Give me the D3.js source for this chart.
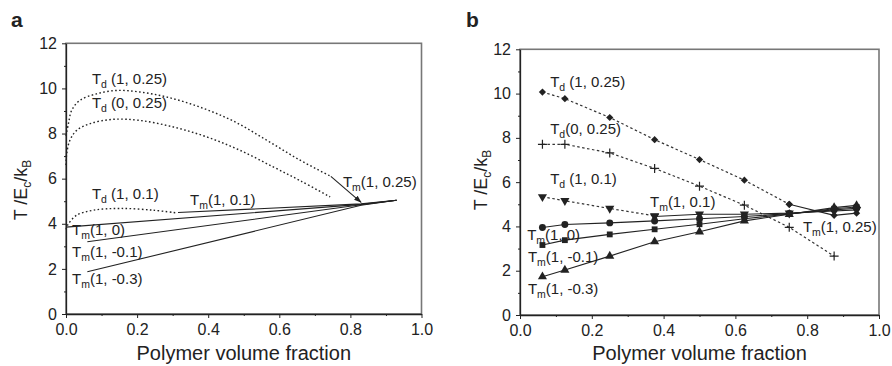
<!DOCTYPE html>
<meta charset="utf-8">
<style>
body { margin: 0; background: #fff; }
svg { font-family: "Liberation Sans", Arial, sans-serif; }
.tick text { font-size: 16px; fill: #222; }
.tick line { stroke: #222; }
.domain { stroke: #222; stroke-width: 1.3; }
.lbl { font-size: 15px; fill: #222; }
</style>
<svg width="892" height="366"></svg>
<script src="https://cdn.jsdelivr.net/npm/d3@7"></script>
<script>
var xTicks = [0, 0.2, 0.4, 0.6, 0.8, 1.0];
var xMinor = [0.1, 0.3, 0.5, 0.7, 0.9];
var yTicks = [0, 2, 4, 6, 8, 10, 12];
var yMinor = [1, 3, 5, 7, 9, 11];

// panel a: model curves, [volume fraction, T/Ec/kB]
var aTd1_025 = [[0, 7.9], [0.007, 8.45], [0.016, 9.03], [0.039, 9.47], [0.086, 9.76], [0.143, 9.91], [0.208, 9.84],
  [0.283, 9.62], [0.377, 9.17], [0.471, 8.55], [0.565, 7.7], [0.655, 6.85], [0.745, 6.1]];
var aTd0_025 = [[0, 6.6], [0.002, 7.1], [0.011, 7.7], [0.03, 8.14], [0.068, 8.44], [0.133, 8.63], [0.208, 8.58],
  [0.302, 8.29], [0.396, 7.85], [0.489, 7.26], [0.583, 6.52], [0.66, 5.9], [0.743, 5.19]];
var aTd1_01 = [[0, 3.75], [0.005, 3.95], [0.03, 4.38], [0.077, 4.6], [0.152, 4.68], [0.246, 4.6], [0.311, 4.48]];
var aTm1_01 = [[0.315, 4.5], [0.83, 4.88], [0.93, 5.04]];
var aTm1_0 = [[0.0, 3.85], [0.83, 4.86], [0.93, 5.04]];
var aTm1_m01 = [[0.06, 3.2], [0.83, 4.84], [0.93, 5.04]];
var aTm1_m03 = [[0.06, 1.87], [0.83, 4.82], [0.93, 5.04]];
var aArrow = [[0.745, 6.1], [0.83, 4.95]];

// panel b: simulation points
var bX = [0.0625, 0.125, 0.25, 0.375, 0.5, 0.625, 0.75, 0.875, 0.9375];
var bTd1_025 = [10.07, 9.77, 8.92, 7.92, 7.02, 6.09, 5.0];        // x: bX[0..6]
var bTm1_025 = [5.0, 4.5, 4.6];                                   // x: bX[6..8]
var bTd0_025 = [7.71, 7.71, 7.32, 6.62, 5.82, 4.96, 3.96, 2.66];  // x: bX[0..7]
var bTd1_01 = [5.34, 5.16, 4.81, 4.48];                           // x: bX[0..3]
var bTm1_01 = [4.45, 4.55, 4.55, 4.6, 4.7, 4.75];                 // x: bX[3..8]
var bTm1_0 = [3.95, 4.09, 4.16, 4.25, 4.35, 4.45, 4.58, 4.75, 4.82];
var bTm1_m01 = [3.16, 3.38, 3.64, 3.87, 4.1, 4.35, 4.56, 4.8, 4.88];
var bTm1_m03 = [1.73, 2.03, 2.66, 3.31, 3.76, 4.25, 4.55, 4.85, 4.95];

var svg = d3.select("svg");
var ink = "#222";

function pts(xs, ys) { return ys.map(function(v, i) { return [xs[i], v]; }); }

function panel(o) {
  var x = d3.scaleLinear().domain([0, 1]).range([o.left, o.right]);
  var y = d3.scaleLinear().domain([0, 12]).range([o.bottom, o.top]);
  var g = svg.append("g");

  g.append("rect")
      .attr("x", o.left).attr("y", o.top)
      .attr("width", o.right - o.left).attr("height", o.bottom - o.top)
      .attr("fill", "none").attr("stroke", "#777").attr("stroke-width", 1.6);

  g.append("g").attr("transform", "translate(0," + o.bottom + ")")
      .call(d3.axisBottom(x).tickValues(xMinor).tickFormat("").tickSize(2).tickSizeOuter(0))
      .select(".domain").remove();
  g.append("g").attr("transform", "translate(" + o.left + ",0)")
      .call(d3.axisLeft(y).tickValues(yMinor).tickFormat("").tickSize(2).tickSizeOuter(0))
      .select(".domain").remove();
  g.append("g").attr("transform", "translate(0," + o.bottom + ")")
      .call(d3.axisBottom(x).tickValues(xTicks).tickFormat(d3.format(".1f")).tickSize(4).tickSizeOuter(0).tickPadding(6));
  g.append("g").attr("transform", "translate(" + o.left + ",0)")
      .call(d3.axisLeft(y).tickValues(yTicks).tickFormat(d3.format("d")).tickSize(4).tickSizeOuter(0).tickPadding(5));
  g.selectAll(".tick text").attr("font-family", null).attr("font-size", null);

  g.append("text").attr("x", o.tag[0]).attr("y", o.tag[1])
      .attr("font-size", 21).attr("font-weight", "bold").attr("fill", ink).text(o.name);

  g.append("text").attr("x", (o.left + o.right) / 2).attr("y", 360)
      .attr("text-anchor", "middle").attr("font-size", 20).attr("fill", ink)
      .text("Polymer volume fraction");

  var yl = g.append("text")
      .attr("transform", "translate(" + o.ylab[0] + "," + o.ylab[1] + ") rotate(-90)")
      .attr("text-anchor", "middle").attr("font-size", 18).attr("fill", ink);
  yl.append("tspan").text("T /E");
  yl.append("tspan").attr("font-size", 12).attr("dy", 4).text("c");
  yl.append("tspan").attr("dy", -4).text("/k");
  yl.append("tspan").attr("font-size", 12).attr("dy", 4).text("B");

  return { g: g, x: x, y: y };
}

function labels(p, list) {
  list.forEach(function(d) {
    var t = p.g.append("text").attr("class", "lbl")
        .attr("x", p.x(d[3])).attr("y", p.y(d[4]));
    t.append("tspan").text(d[0]);
    t.append("tspan").attr("font-size", 10.5).attr("dy", 4).text(d[1]);
    t.append("tspan").attr("dy", -4).text(d[2]);
  });
}

// ---------- panel a ----------
var pa = panel({ name: "a", left: 66, right: 421.5, top: 43.3, bottom: 314, tag: [11, 27], ylab: [27, 190] });

var curve = d3.line().x(function(d) { return pa.x(d[0]); }).y(function(d) { return pa.y(d[1]); })
    .curve(d3.curveCatmullRom.alpha(0.5));
var straight = d3.line().x(function(d) { return pa.x(d[0]); }).y(function(d) { return pa.y(d[1]); });

[aTd1_025, aTd0_025, aTd1_01].forEach(function(c) {
  pa.g.append("path").attr("d", curve(c)).attr("fill", "none")
      .attr("stroke", ink).attr("stroke-width", 1.4).attr("stroke-dasharray", "1.6,2.4");
});
[aTm1_01, aTm1_0, aTm1_m01, aTm1_m03].forEach(function(c) {
  pa.g.append("path").attr("d", straight(c)).attr("fill", "none")
      .attr("stroke", ink).attr("stroke-width", 1.1);
});

svg.append("defs").append("marker")
    .attr("id", "head").attr("viewBox", "0 0 10 10").attr("refX", 9).attr("refY", 5)
    .attr("markerWidth", 7).attr("markerHeight", 7).attr("orient", "auto")
  .append("path").attr("d", "M0,1.5L10,5L0,8.5Z").attr("fill", ink);
pa.g.append("path").attr("d", straight(aArrow)).attr("stroke", ink).attr("stroke-width", 1.1)
    .attr("marker-end", "url(#head)");

labels(pa, [
  ["T", "d", " (1, 0.25)", 0.073, 10.18],
  ["T", "d", " (0, 0.25)", 0.073, 9.12],
  ["T", "m", "(1, 0.25)", 0.779, 5.62],
  ["T", "d", " (1, 0.1)", 0.073, 5.09],
  ["T", "m", "(1, 0.1)", 0.349, 4.82],
  ["T", "m", "(1, 0)", 0.017, 3.5],
  ["T", "m", "(1, -0.1)", 0.017, 2.52],
  ["T", "m", "(1, -0.3)", 0.017, 1.33]
]);

// ---------- panel b ----------
var pb = panel({ name: "b", left: 520, right: 879, top: 49.3, bottom: 315, tag: [466, 27], ylab: [487, 180] });

var lineB = d3.line().x(function(d) { return pb.x(d[0]); }).y(function(d) { return pb.y(d[1]); });

var plus = "M-4.5,0H4.5M0,-4.5V4.5";
var series = [
  { d: pts(bX.slice(0, 7), bTd1_025), dash: true, sym: d3.symbolSquare, size: 26, rot: 45 },
  { d: pts(bX.slice(6), bTm1_025), dash: false, sym: d3.symbolSquare, size: 26, rot: 45 },
  { d: pts(bX.slice(0, 8), bTd0_025), dash: true, sym: "plus" },
  { d: pts(bX.slice(0, 4), bTd1_01), dash: true, sym: d3.symbolTriangle, size: 36, rot: 180 },
  { d: pts(bX.slice(3), bTm1_01), dash: false, sym: d3.symbolTriangle, size: 36, rot: 180 },
  { d: pts(bX, bTm1_0), dash: false, sym: d3.symbolCircle, size: 38 },
  { d: pts(bX, bTm1_m01), dash: false, sym: d3.symbolSquare, size: 34 },
  { d: pts(bX, bTm1_m03), dash: false, sym: d3.symbolTriangle, size: 36 }
];

series.forEach(function(s) {
  pb.g.append("path").attr("d", lineB(s.d)).attr("fill", "none")
      .attr("stroke", s.dash ? "#333" : ink).attr("stroke-width", s.dash ? 1.2 : 1.1)
      .attr("stroke-dasharray", s.dash ? "2.5,2.5" : null);
});
series.forEach(function(s) {
  var m = pb.g.append("g").selectAll("path").data(s.d).enter().append("path")
      .attr("transform", function(d) {
        return "translate(" + pb.x(d[0]) + "," + pb.y(d[1]) + ")" + (s.rot ? " rotate(" + s.rot + ")" : "");
      });
  if (s.sym === "plus") {
    m.attr("d", plus).attr("stroke", ink).attr("stroke-width", 1.2).attr("fill", "none");
  } else {
    m.attr("d", d3.symbol().type(s.sym).size(s.size)).attr("fill", ink);
  }
});

labels(pb, [
  ["T", "d", " (1, 0.25)", 0.084, 10.28],
  ["T", "d", "(0, 0.25)", 0.084, 8.16],
  ["T", "d", " (1, 0.1)", 0.084, 5.91],
  ["T", "m", "(1, 0.1)", 0.362, 4.87],
  ["T", "m", "(1, 0.25)", 0.788, 3.74],
  ["T", "m", "(1, 0)", 0.02, 3.38],
  ["T", "m", "(1, -0.1)", 0.022, 2.39],
  ["T", "m", "(1, -0.3)", 0.022, 0.95]
]);
</script>
